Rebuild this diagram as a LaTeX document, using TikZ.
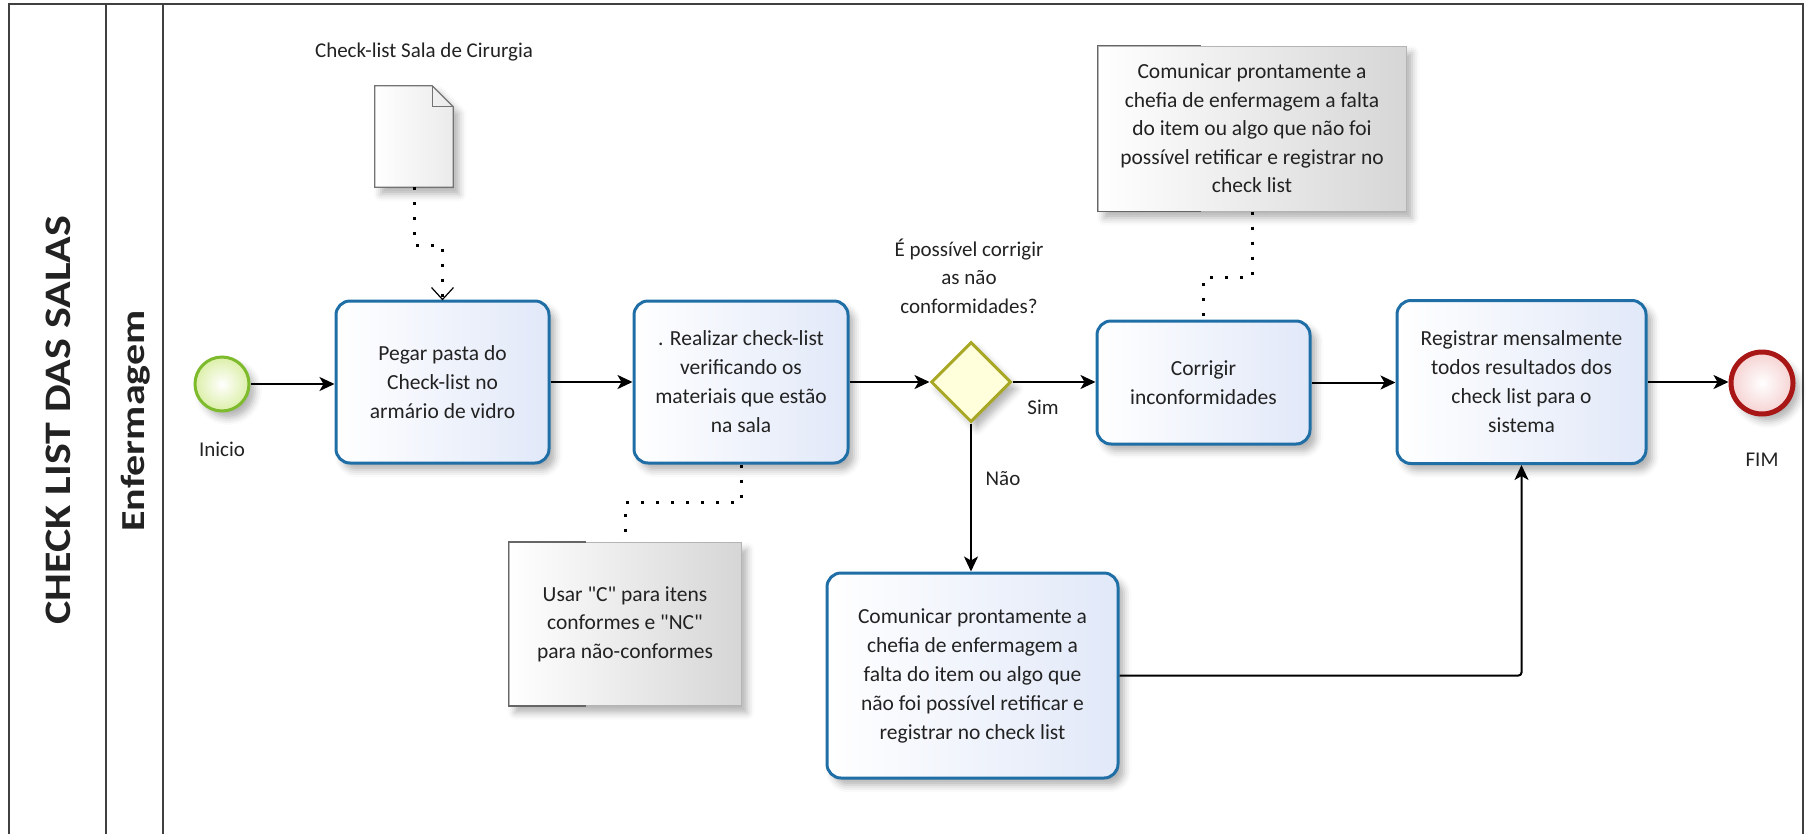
\documentclass[tikz,border=0pt]{standalone}
\usepackage{fontspec}
\setmainfont{Carlito}[Ligatures=TeXOff]
\usetikzlibrary{arrows.meta,shapes.geometric,shadows.blur,calc}
\definecolor{taskborder}{HTML}{1F6FA6}
\definecolor{taskfill}{HTML}{E1E8F8}
\definecolor{startborder}{HTML}{7DBB2C}
\definecolor{startfill}{HTML}{DCEFA8}
\definecolor{endborder}{HTML}{A81616}
\definecolor{endfill}{HTML}{F6D2D2}
\definecolor{gwborder}{HTML}{A8A826}
\definecolor{gwfill}{HTML}{FFFFDC}
\definecolor{annfill}{HTML}{D6D6D6}
\definecolor{annborder}{HTML}{B4B4B4}
\definecolor{txt}{HTML}{222222}
\tikzset{
  shad/.style={blur shadow={shadow xshift=6pt, shadow yshift=-7pt, shadow blur radius=7pt, shadow opacity=30}},
  task/.style={rectangle, rounded corners=14pt, draw=taskborder, line width=3pt,
    left color=white, right color=taskfill, align=center, text=txt,
    font=\fontsize{21.5}{29}\selectfont, inner sep=0pt, shad},
  annot/.style={rectangle, draw=annborder, line width=1pt, left color=white, right color=annfill,
    align=center, text=txt, font=\fontsize{21.5}{28.5}\selectfont, inner sep=0pt, shad},
  bracket/.style={draw=gray!80!black, line width=1.5pt},
  flow/.style={line width=2pt, draw=black, -{Stealth[length=15pt,width=14pt,inset=4pt]}},
  assoc/.style={line width=3pt, dash pattern=on 3pt off 12pt, draw=black},
  lbl/.style={font=\fontsize{21}{28.5}\selectfont, align=center, text=txt, inner sep=0pt},
  lane/.style={draw=black!75, line width=1.5pt}
}
\begin{document}
\begin{tikzpicture}[x=1pt,y=-1pt]
\useasboundingbox (0,0) rectangle (1807,833);
% frame and lanes
\draw[lane] (9,4) rectangle (1803,845);
\draw[lane] (106,4) -- (106,845);
\draw[lane] (163,4) -- (163,845);
\node[rotate=90, text=txt, inner sep=0pt] (pool) at (58,420) {\scalebox{1}[0.85]{\bfseries\fontsize{44}{46}\selectfont CHECK LIST DAS SALAS}};
\node[rotate=90, text=txt, inner sep=0pt] (lanelbl) at (136,421) {\scalebox{1}[0.8]{\bfseries\fontsize{42}{44}\selectfont Enfermagem}};

% events
\node[circle, draw=startborder, line width=3pt, inner color=white, outer color=startfill, minimum size=54pt, inner sep=0pt, shad] (start) at (222,384) {};
\node[lbl] (startlbl) at (222,449) {Inicio};
\node[circle, draw=endborder, line width=5pt, inner color=white, outer color=endfill, minimum size=62pt, inner sep=0pt, shad] (end) at (1762,383) {};
\node[lbl] (endlbl) at (1762,460) {FIM};

% document
\node[minimum width=78pt, minimum height=101pt, inner sep=0pt] (doc) at (414,136.5) {};
\shade[shad, left color=white, right color=black!8, draw=black!55, line width=1.2pt]
  (doc.north west) -- ($(doc.north east)+(-21,0)$) -- ($(doc.north east)+(0,21)$) -- (doc.south east) -- (doc.south west) -- cycle;
\draw[black!55, line width=1.2pt] ($(doc.north east)+(-21,0)$) -- ($(doc.north east)+(-21,21)$) -- ($(doc.north east)+(0,21)$);
\node[lbl] (doclbl) at (424,52) {Check-list Sala de Cirurgia};

% tasks
\node[task, minimum width=213pt, minimum height=162pt] (t1) at (442.5,382) {Pegar pasta do\\Check-list no\\armário de vidro};
\node[task, minimum width=214pt, minimum height=162pt] (t2) at (741,382) {. Realizar check-list\\verificando os\\materiais que estão\\na sala};
\node[diamond, aspect=1, draw=gwborder, line width=3pt, fill=gwfill, minimum size=80pt, inner sep=0pt, shad] (gw) at (971,382) {};
\node[lbl] (gwlbl) at (969,276) {É possível corrigir\\as não\\conformidades?};
\node[task, minimum width=213pt, minimum height=123pt] (t3) at (1203.5,382.5) {Corrigir\\inconformidades};
\node[task, minimum width=249pt, minimum height=163pt] (t4) at (1521.5,382) {Registrar mensalmente\\todos resultados dos\\check list para o\\sistema};
\node[task, minimum width=291pt, minimum height=205pt] (t5) at (972.5,675.5) {Comunicar prontamente a\\chefia de enfermagem a\\falta do item ou algo que\\não foi possível retificar e\\registrar no check list};

% annotations
\node[annot, minimum width=232pt, minimum height=163pt] (a1) at (625,624) {Usar "C" para itens\\conformes e "NC"\\para não-conformes};
\draw[bracket] ($(a1.north west)+(77,0)$) -- (a1.north west) -- (a1.south west) -- ($(a1.south west)+(77,0)$);
\node[annot, minimum width=308pt, minimum height=165pt] (a2) at (1252,128.5) {Comunicar prontamente a\\chefia de enfermagem a falta\\do item ou algo que não foi\\possível retificar e registrar no\\check list};
\draw[bracket] ($(a2.north west)+(103,0)$) -- (a2.north west) -- (a2.south west) -- ($(a2.south west)+(103,0)$);

% associations
\draw[assoc] (doc.south) -- ++(0,58) -| (t1.north);
\draw[line width=1.2pt] ($(t1.north)+(-11,-12)$) -- (t1.north) -- ($(t1.north)+(11,-12)$);
\draw[assoc] (t2.south) -- ++(0,38) -| (a1.north);
\draw[assoc] (a2.south) -- ++(0,66) -| (t3.north);

% sequence flows
\draw[flow] (start.east) -- (start.east -| t1.west);
\draw[flow] (t1.east) -- (t2.west);
\draw[flow] (t2.east) -- (gw.west);
\draw[flow] (gw.east) -- (gw.east -| t3.west);
\draw[flow] (t3.east) -- (t3.east -| t4.west);
\draw[flow] (t4.east) -- (t4.east -| end.west);
\draw[flow] (gw.south) -- (gw.south |- t5.north);
\draw[flow, rounded corners=3pt] (t5.east) -| (t4.south);
\node[lbl] (sim) at (1043,407) {Sim};
\node[lbl] (nao) at (1003,479) {Não};
\end{tikzpicture}
\end{document}
